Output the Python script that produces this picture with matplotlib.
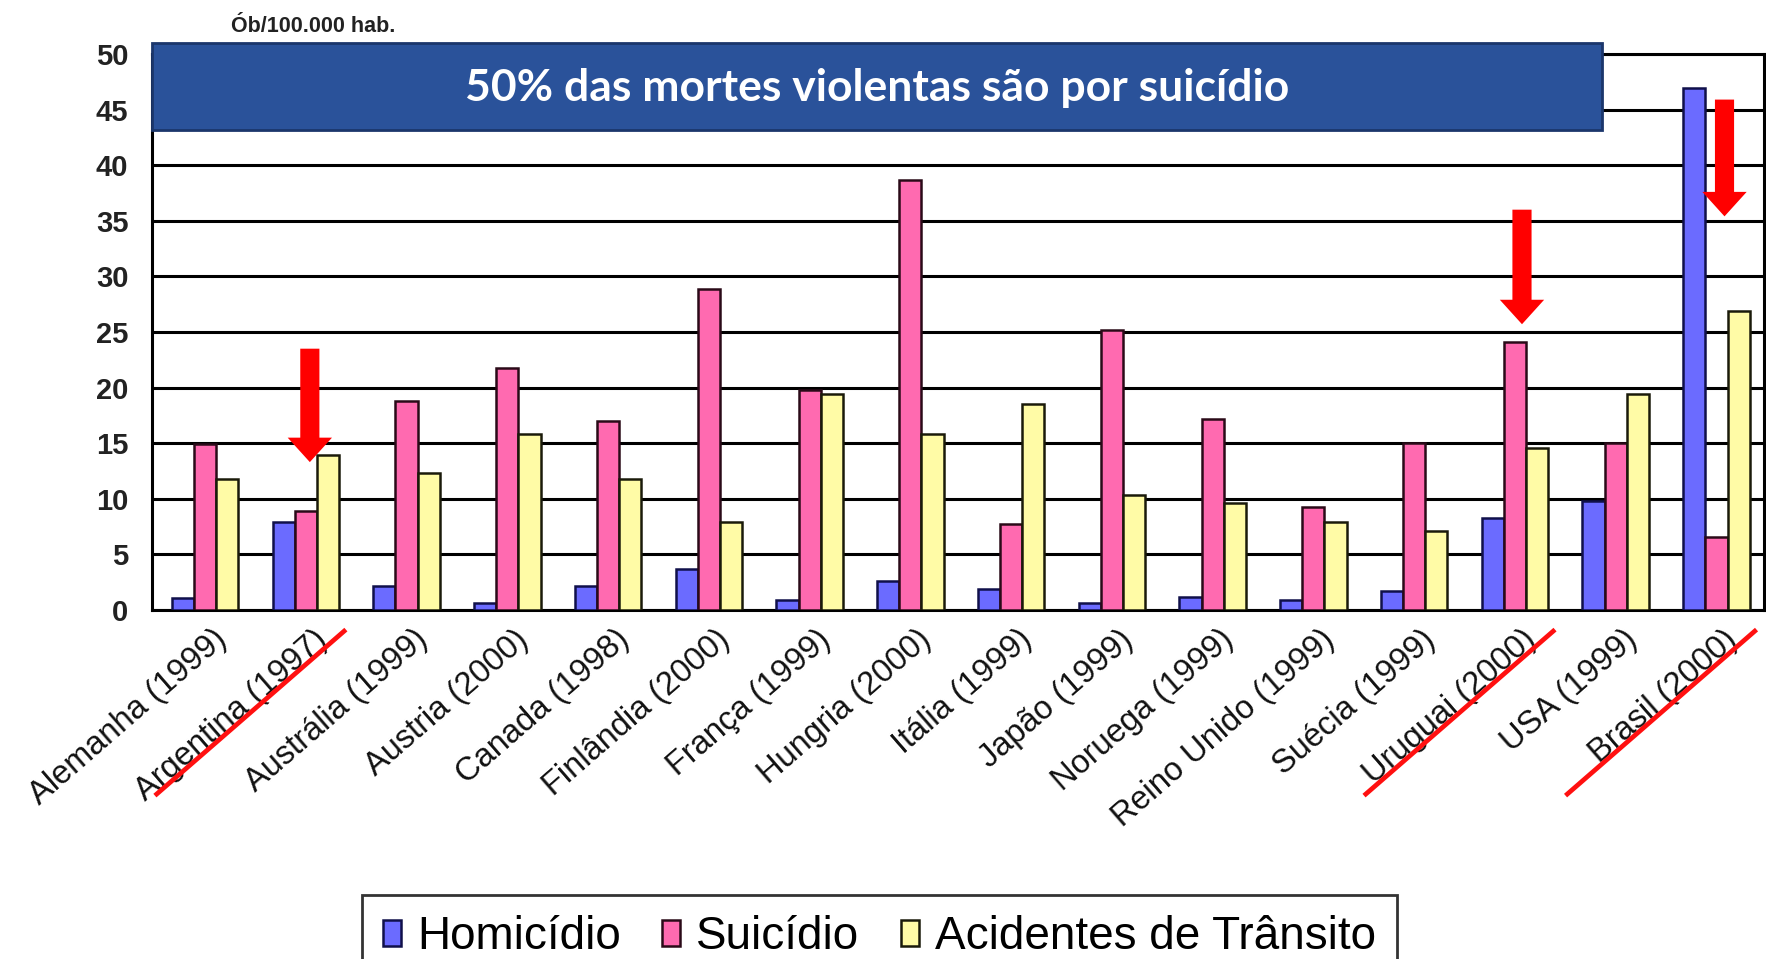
import matplotlib
matplotlib.use("Agg")
import matplotlib.pyplot as plt
from matplotlib.patches import Rectangle, FancyArrow, Patch
from matplotlib.lines import Line2D
from matplotlib.transforms import ScaledTranslation, blended_transform_factory

# Dados (óbitos por 100.000 habitantes)
paises = ["Alemanha (1999)", "Argentina (1997)", "Austrália (1999)", "Austria (2000)",
          "Canada (1998)", "Finlândia (2000)", "França (1999)", "Hungria (2000)",
          "Itália (1999)", "Japão (1999)", "Noruega (1999)", "Reino Unido (1999)",
          "Suécia (1999)", "Uruguai (2000)", "USA (1999)", "Brasil (2000)"]
homicidio = [1.1, 7.9, 2.2, 0.6, 2.2, 3.7, 0.9, 2.6, 1.9, 0.6, 1.2, 0.9, 1.7, 8.3, 9.8, 46.9]
suicidio = [14.9, 8.9, 18.8, 21.8, 17.0, 28.9, 19.8, 38.7, 7.7, 25.2, 17.2, 9.3, 15.0, 24.1, 15.0, 6.6]
transito = [11.8, 13.9, 12.3, 15.8, 11.8, 7.9, 19.4, 15.8, 18.5, 10.3, 9.6, 7.9, 7.1, 14.6, 19.4, 26.9]
series_nomes = ["Homicídio", "Suicídio", "Acidentes de Trânsito"]
y_ticks = [0, 5, 10, 15, 20, 25, 30, 35, 40, 45, 50]

# Destaques: países riscados e setas vermelhas (topo, ponta)
destaques = [1, 13, 15]
setas_topo = [23.5, 36.0, 45.9]
setas_ponta = [13.3, 25.7, 35.4]

titulo = "50% das mortes violentas são por suicídio"
unidade = "Ób/100.000 hab."

CORES = ["#6B6BFF", "#FF6AB0", "#FFFBA6"]
BORDAS = ["#10104A", "#2A0A18", "#1A1A0A"]

fig = plt.figure(figsize=(17.66, 9.59), dpi=100)
ax = fig.add_axes([0.0861, 0.3639, 0.913, 0.5798])

largura = 0.22
x = list(range(len(paises)))
for k, valores in enumerate([homicidio, suicidio, transito]):
    pos = [xi + (k - 1) * largura for xi in x]
    ax.bar(pos, valores, width=largura, color=CORES[k], edgecolor=BORDAS[k],
           linewidth=1.8, zorder=3)

ax.set_xlim(-0.526, 15.476)
ax.set_ylim(0, 50)
ax.set_yticks(y_ticks)
ax.set_yticklabels([str(v) for v in y_ticks], fontsize=21, fontweight="bold",
                   family="Liberation Sans", color="#222222")
ax.tick_params(axis="y", length=0, pad=17)
ax.tick_params(axis="x", length=0, pad=10)
ax.yaxis.grid(True, color="black", linewidth=2.2)
ax.set_axisbelow(True)
for lado in ["left", "bottom", "top", "right"]:
    ax.spines[lado].set_color("black")
    ax.spines[lado].set_linewidth(2.2)

ax.set_xticks(x)
ax.set_xticklabels(paises, rotation=41, ha="right", va="top", rotation_mode="anchor",
                   fontsize=23.5, family="Liberation Sans", color="#111111")
desloc = ScaledTranslation(0.07, 0, fig.dpi_scale_trans)
for lbl in ax.get_xticklabels():
    lbl.set_transform(lbl.get_transform() + desloc)

# Caixa do título
x0, x1 = -0.526, 13.86
ax.add_patch(Rectangle((x0, 43.2), x1 - x0, 7.8, facecolor="#2A529A", edgecolor="#1B366B",
                       linewidth=2, clip_on=False, zorder=6))
ax.text((x0 + x1) / 2, 46.9, titulo, ha="center", va="center", color="white",
        fontsize=32, family="Lato", fontweight="bold", zorder=7)

# Setas vermelhas e riscos sob os rótulos
trans = blended_transform_factory(ax.transData, ax.transAxes)
offs = [0.04, 0.07, 0.08]
for i, topo, ponta, dx in zip(destaques, setas_topo, setas_ponta, offs):
    ax.add_patch(FancyArrow(i + dx, topo, 0, ponta - topo, width=0.19, head_width=0.44,
                            head_length=2.2, length_includes_head=True, color="#FF0000",
                            linewidth=0, zorder=8, clip_on=False))
    ax.add_artist(Line2D([i - 1.48, i + 0.38], [-0.331, -0.038], transform=trans,
                         color="#FF1010", linewidth=3.4, clip_on=False, zorder=9))

fig.text(0.131, 0.972, unidade, ha="left", va="center", fontsize=15.5,
         fontweight="bold", family="Liberation Sans", color="#222222")

handles = [Patch(facecolor=CORES[k], edgecolor=BORDAS[k], linewidth=1.8) for k in range(3)]
leg = fig.legend(handles, series_nomes, loc="upper center", bbox_to_anchor=(0.498, 0.067),
                 ncol=3, frameon=True, fancybox=False, edgecolor="black", borderaxespad=0,
                 prop={"family": "Liberation Sans", "size": 33}, handlelength=0.4,
                 handleheight=0.5, handletextpad=0.35, columnspacing=0.9, borderpad=0.45)
leg.get_frame().set_linewidth(2)

fig.savefig("out.png", dpi=100)
